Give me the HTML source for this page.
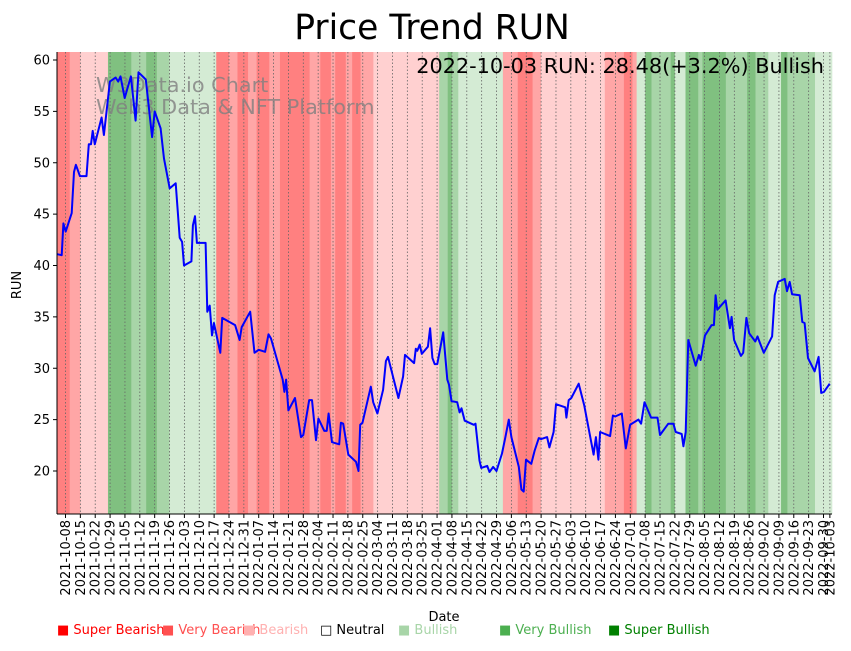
<!DOCTYPE html>
<html><head><meta charset="utf-8"><style>
html,body{margin:0;padding:0;background:#fff;}
svg text{font-family:"DejaVu Sans","Liberation Sans",sans-serif;}
</style></head><body>
<svg id="chart" width="851" height="646" viewBox="0 0 851 646" xmlns="http://www.w3.org/2000/svg">
<text x="432" y="39" font-size="34.5" text-anchor="middle">Price Trend RUN</text>
<g id="bands"></g>
<g id="grid"></g>
<text x="96" y="92" font-size="20.8" fill="#808080" fill-opacity="0.8">W3Data.io Chart</text>
<text x="96" y="114" font-size="20.8" fill="#808080" fill-opacity="0.8">Web3 Data &amp; NFT Platform</text>
<path id="line" fill="none" stroke="#0000ff" stroke-width="2" stroke-linejoin="round"/>
<text x="824" y="73" font-size="20.8" text-anchor="end">2022-10-03 RUN: 28.48(+3.2%) Bullish</text>
<g id="yaxis"></g>
<g id="xaxis"></g>
<line x1="57" y1="52" x2="57" y2="514" stroke="#000" stroke-width="1"/>
<line x1="57" y1="514" x2="832" y2="514" stroke="#000" stroke-width="1"/>
<text x="0" y="0" font-size="13" text-anchor="middle" transform="translate(21,285) rotate(-90)">RUN</text>
<text x="444" y="621" font-size="13" text-anchor="middle">Date</text>
<g font-size="13">
<text x="57" y="634" fill="#ff0000">■ Super Bearish</text>
<text x="162" y="634" fill="#ff5050">■ Very Bearish</text>
<text x="243" y="634" fill="#ffb0b0">■ Bearish</text>
<text x="320" y="634" fill="#000">□ Neutral</text>
<text x="398" y="634" fill="#a8d5a8">■ Bullish</text>
<text x="499" y="634" fill="#4caf50">■ Very Bullish</text>
<text x="608" y="634" fill="#008000">■ Super Bullish</text>
</g>
</svg>
<script>
// day index = days since 2021-10-04
const bandStarts = [0,6,11,24,35,42,47,53,75,81,85,90,94,100,105,119,124,129,131,136,139,143,149,180,184,186,189,210,217,224,228,258,267,271,273,277,280,289,291,296,302,304,315,325,329,335,341,344,357];
const bandClasses = [0,1,2,6,5,6,5,4,0,1,0,1,0,1,0,1,0,1,0,1,0,1,2,5,6,5,4,1,0,1,2,1,0,1,4,6,5,6,4,6,5,6,5,6,5,4,6,5,4];
const lastDay = 365;
const priceDays = [0.1,2.2,3,4.1,6.9,8,8.9,10.8,13.9,15,16,16.8,17.8,21,22.1,24.9,27.6,28.8,29.9,31.9,34.8,37,38.4,41.8,44.8,46,48.8,50.4,53.1,55.9,57.8,58.9,59.8,63.3,64,65,65.9,70,70.8,71.9,73,73.9,76.9,77.8,83.9,86,87,91,93,95,98,99.6,100.8,106.3,107.1,107.9,109,112.1,114.9,116,118.8,120.1,122,123.1,125.9,127,127.9,129.5,132.9,133.7,134.8,137.2,140.8,142,142.8,143.9,147.8,148.9,150.9,153.6,154.9,155.9,160.8,163,163.9,168.2,169,169.7,170.8,171.8,174.7,175.7,176.8,177.9,179.1,181.9,183.8,184.6,185.8,188.5,189.6,190.5,192,196.3,197.1,199,199.8,202.6,203.7,205.4,207,209.6,211.2,212.8,214,217.5,218.7,219.8,220.9,223.4,225,226.9,228,230.8,231.9,233.9,235,239.4,239.9,241,242.2,245.7,248.3,252.7,253.8,255,255.8,260.5,261.8,262.9,266,267.9,269.9,273.8,275.1,276.7,279.8,282.8,284,287.9,290.3,291.4,294.2,295,296.1,297.3,300.8,302.3,303.1,305.2,308.3,309.4,310.2,311,314.9,316.9,317.7,318.9,322.1,323.2,324.7,326,328.9,329.9,331,332.9,336.8,338,339.6,342.7,343.8,345.1,346.2,349.8,351,352.1,353.7,356.8,358.7,359.9,361.2,363.9];
const priceValues = [41.1,41.0,44.1,43.3,45.1,49.1,49.8,48.7,48.7,51.8,51.8,53.1,51.8,54.4,52.7,57.9,58.3,57.9,58.4,56.3,58.4,54.1,58.8,58.1,52.5,55,53.35,50.4,47.5,48,42.7,42.3,40,40.4,43.9,44.8,42.2,42.2,35.5,36.1,33.2,34.4,31.5,34.9,34.2,32.75,34,35.5,31.5,31.8,31.6,33.3,32.9,28.9,27.7,28.9,25.9,27.1,23.3,23.5,26.9,26.9,23,25.1,23.9,23.9,25.6,22.8,22.6,24.7,24.6,21.6,20.9,20,24.5,24.7,28.2,26.7,25.6,27.9,30.7,31.1,27.1,29.2,31.3,30.5,31.9,31.7,32.3,31.4,32.1,33.9,31,30.4,30.4,33.5,28.9,28.4,26.8,26.7,25.7,26.1,24.9,24.5,24.6,21,20.3,20.5,19.9,20.4,20,21.7,23.3,25,23.3,20.4,18.2,18,21.1,20.7,22,23.2,23.1,23.3,22.3,23.8,26.5,26.2,25.2,26.9,27.1,28.5,26.4,21.6,23.3,21.1,23.8,23.4,25.4,25.3,25.6,22.2,24.5,25,24.6,26.7,25.2,25.2,23.5,24.6,24.6,23.8,23.6,22.4,23.8,32.75,30.25,31.3,30.8,33.2,34.2,34.2,37.1,35.7,36.6,33.9,35,32.75,31.2,31.5,34.9,33.4,32.6,33.1,32.5,31.5,33.1,37.1,38.4,38.7,37.5,38.4,37.2,37.1,34.5,34.4,31,29.7,31.1,27.6,27.7,28.5];
const yTicks = [20,25,30,35,40,45,50,55,60];
const xTickDays = [4,11,18,25,32,39,46,53,60,67,74,81,88,95,102,109,116,123,130,137,144,151,158,165,172,179,186,193,200,207,214,221,228,235,242,249,256,263,270,277,284,291,298,305,312,319,326,333,340,347,354,361,364];
const xTickLabels = ["2021-10-08","2021-10-15","2021-10-22","2021-10-29","2021-11-05","2021-11-12","2021-11-19","2021-11-26","2021-12-03","2021-12-10","2021-12-17","2021-12-24","2021-12-31","2022-01-07","2022-01-14","2022-01-21","2022-01-28","2022-02-04","2022-02-11","2022-02-18","2022-02-25","2022-03-04","2022-03-11","2022-03-18","2022-03-25","2022-04-01","2022-04-08","2022-04-15","2022-04-22","2022-04-29","2022-05-06","2022-05-13","2022-05-20","2022-05-27","2022-06-03","2022-06-10","2022-06-17","2022-06-24","2022-07-01","2022-07-08","2022-07-15","2022-07-22","2022-07-29","2022-08-05","2022-08-12","2022-08-19","2022-08-26","2022-09-02","2022-09-09","2022-09-16","2022-09-23","2022-09-30","2022-10-03"];
const bandColors = ["#ff8080","#ffa6a6","#ffd0d0","#ffffff","#d4ebd4","#a8d5a8","#80c080"];
const bandNames = ["super-bearish","very-bearish","bearish","neutral","bullish","very-bullish","super-bullish"];
const NS="http://www.w3.org/2000/svg";
const X0=57, X1=832, Y0=514, Y1=52;
function xs(d){return X0+d*(X1-X0)/lastDay;}
function ys(v){return 471-(v-20)*(471-60)/40;}
function mk(t,a){const e=document.createElementNS(NS,t);for(const k in a)e.setAttribute(k,a[k]);return e;}
const bands=document.getElementById('bands');
for(let i=0;i<bandStarts.length;i++){
  const s=bandStarts[i], e=(i+1<bandStarts.length)?bandStarts[i+1]:lastDay;
  const r=mk('rect',{x:xs(s),y:Y1,width:xs(e)-xs(s)+0.3,height:Y0-Y1,fill:bandColors[bandClasses[i]]});
  
  
  bands.appendChild(r);
}
const grid=document.getElementById('grid'), xa=document.getElementById('xaxis');
xTickDays.forEach((d,i)=>{
  const x=xs(d);
  const g=mk('line',{x1:x,y1:Y1,x2:x,y2:Y0,stroke:'#666','stroke-width':0.8,'stroke-dasharray':'1.5,2'});
  
  
  grid.appendChild(g);
  const t=mk('line',{x1:x,y1:Y0,x2:x,y2:Y0+4,stroke:'#000','stroke-width':1});
  
  
  xa.appendChild(t);
  const l=mk('text',{x:0,y:0,'font-size':13,'text-anchor':'end',transform:'translate('+(x+4.5)+','+(Y0+6)+') rotate(-90)'});
  l.textContent=xTickLabels[i];
  
  
  xa.appendChild(l);
});
const ya=document.getElementById('yaxis');
yTicks.forEach(v=>{
  const y=ys(v);
  const t=mk('line',{x1:X0-4,y1:y,x2:X0,y2:y,stroke:'#000','stroke-width':1});
  
  
  ya.appendChild(t);
  const l=mk('text',{x:X0-7,y:y+4.5,'font-size':13,'text-anchor':'end'});
  l.textContent=v;
  
  
  ya.appendChild(l);
});
document.getElementById('line').setAttribute('d',priceDays.map((d,i)=>(i?'L':'M')+xs(d).toFixed(1)+','+ys(priceValues[i]).toFixed(1)).join(''));
</script>
</body></html>
